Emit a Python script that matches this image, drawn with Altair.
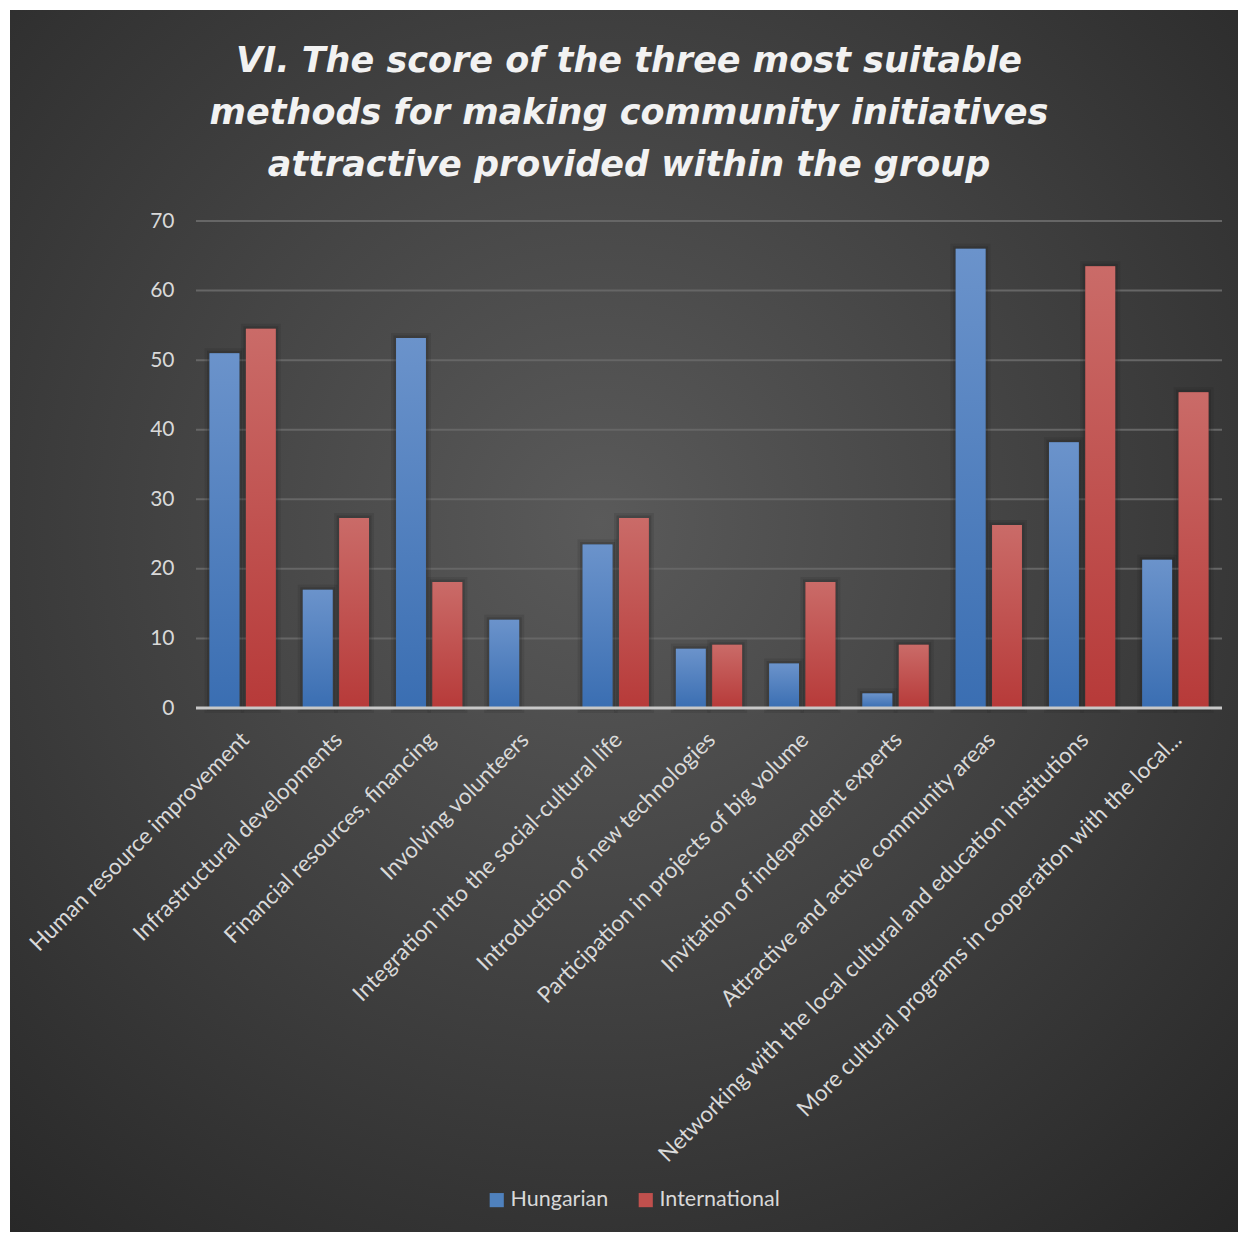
import altair as alt
import pandas as pd

categories = [
    "Human resource improvement",
    "Infrastructural developments",
    "Financial resources, financing",
    "Involving volunteers",
    "Integration into the social-cultural life",
    "Introduction of new technologies",
    "Participation in projects of big volume",
    "Invitation of independent experts",
    "Attractive and active community areas",
    "Networking with the local cultural and education institutions",
    "More cultural programs in cooperation with the local...",
]
hungarian = [51.0, 17.0, 53.2, 12.7, 23.5, 8.5, 6.4, 2.1, 66.0, 38.2, 21.3]
international = [54.5, 27.3, 18.1, 0.0, 27.3, 9.1, 18.1, 9.1, 26.3, 63.5, 45.4]
series = ["Hungarian", "International"]
y_ticks = [0, 10, 20, 30, 40, 50, 60, 70]

rows = []
for c, h, i in zip(categories, hungarian, international):
    rows.append({"category": c, "series": "Hungarian", "value": h})
    rows.append({"category": c, "series": "International", "value": i})
df = pd.DataFrame(rows)
grid_df = pd.DataFrame({"value": y_ticks[1:]})
base_df = pd.DataFrame({"value": [0]})

W, H = 1026, 487
PAD = {"left": 196, "top": 221, "right": 18, "bottom": 526}
FONT = "Lato"

x_scale = alt.Scale(domain=categories, paddingInner=0.29, paddingOuter=0.145)
y_scale = alt.Scale(domain=[0, 70], nice=False)
xo_scale = alt.Scale(domain=series, paddingInner=0.18)

y_axis = alt.Axis(title=None, values=y_ticks, grid=False, domain=False,
                  ticks=False, labelFontSize=21, labelColor="#d9d9d9",
                  labelFont=FONT, labelPadding=22, zindex=1)
x_axis = alt.Axis(title=None, labelAngle=-45, labelFontSize=22.5,
                  labelColor="#d9d9d9", labelFont=FONT, ticks=False,
                  domain=False, labelPadding=20, labelLimit=800,
                  labelOverlap=False, labelOffset=-5, zindex=1)

bg = alt.Chart(base_df).mark_rect(
    color=alt.Gradient(
        gradient="radial",
        x1=0.48, y1=0.42, r1=0.0,
        x2=0.48, y2=0.42, r2=0.78,
        stops=[alt.GradientStop(offset=0, color="#5a5a5a"),
               alt.GradientStop(offset=1, color="#262626")],
    )
).encode(
    x=alt.value(-186), x2=alt.value(W + 16),
    y=alt.value(-211), y2=alt.value(H + 524),
)

grid = alt.Chart(grid_df).mark_rule(color="#666666", strokeWidth=2).encode(
    y=alt.Y("value:Q", scale=y_scale, axis=y_axis)
)

legend_bars = alt.Chart(df).mark_bar().encode(
    x=alt.X("category:N", scale=x_scale, sort=categories, axis=x_axis),
    xOffset=alt.XOffset("series:N", scale=xo_scale),
    y=alt.Y("value:Q", scale=y_scale, axis=y_axis),
    color=alt.Color("series:N", scale=alt.Scale(domain=series, range=["#4f81bd", "#c0504d"]),
                    legend=alt.Legend(title=None, orient="none", legendX=290, legendY=968,
                                      direction="horizontal", symbolType="square",
                                      symbolSize=200, symbolStrokeWidth=0,
                                      labelFontSize=21.5, labelColor="#d9d9d9",
                                      labelOffset=3,
                                      labelFont=FONT, columnPadding=26, zindex=1)),
)


def shadow(width, opacity):
    return alt.Chart(df).transform_filter(
        alt.datum.value > 0
    ).mark_bar(
        fillOpacity=0, stroke="#161616", strokeWidth=width, strokeOpacity=opacity
    ).encode(
        x=alt.X("category:N", scale=x_scale, sort=categories, axis=x_axis),
        xOffset=alt.XOffset("series:N", scale=xo_scale),
        y=alt.Y("value:Q", scale=y_scale, axis=y_axis),
    )


def grad_bars(name, top, bottom):
    return alt.Chart(df).transform_filter(
        alt.datum.series == name
    ).mark_bar(
        color=alt.Gradient(
            gradient="linear", x1=0, y1=0, x2=0, y2=1,
            stops=[alt.GradientStop(offset=0, color=top),
                   alt.GradientStop(offset=1, color=bottom)],
        )
    ).encode(
        x=alt.X("category:N", scale=x_scale, sort=categories, axis=x_axis),
        xOffset=alt.XOffset("series:N", scale=xo_scale),
        y=alt.Y("value:Q", scale=y_scale, axis=y_axis),
    )


hun = grad_bars("Hungarian", "#6b93cb", "#3a6eb2")
intl = grad_bars("International", "#ca6b68", "#b73a39")

baseline = alt.Chart(base_df).mark_rule(color="#c8c8c8", strokeWidth=3).encode(
    y=alt.Y("value:Q", scale=y_scale, axis=y_axis)
)

chart = alt.layer(
    bg, grid, legend_bars, shadow(10, 0.12), shadow(5, 0.18), hun, intl, baseline
).properties(
    width=W, height=H,
    padding=PAD,
    autosize=alt.AutoSizeParams(type="none"),
    background="white",
    title=alt.TitleParams(
        text=["VI. The score of the three most suitable",
              "methods for making community initiatives",
              "attractive provided within the group"],
        font="DejaVu Sans", fontSize=35, fontStyle="italic", fontWeight="bold",
        color="#f2f2f2", lineHeight=52, anchor="middle", dx=-80, offset=-173,
        zindex=1,
    ),
).configure_view(stroke=None)

chart.save("out.html", embed_options={"renderer": "svg", "actions": False})
